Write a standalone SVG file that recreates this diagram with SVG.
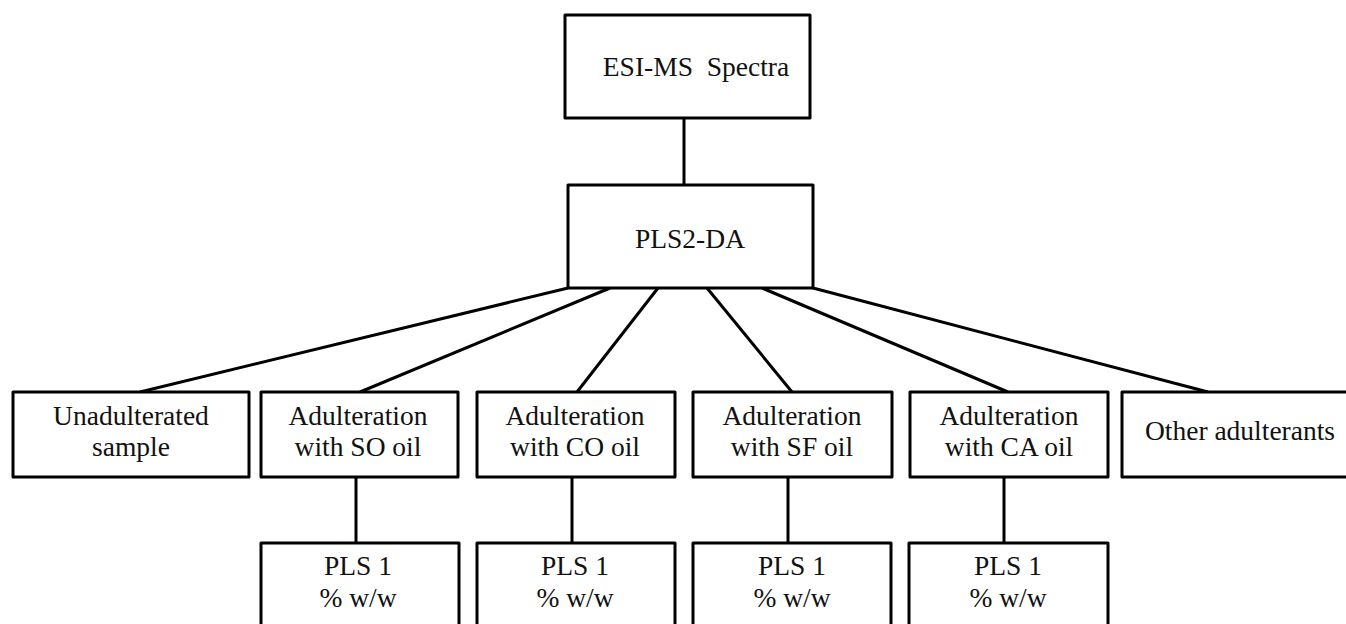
<svg xmlns="http://www.w3.org/2000/svg" width="1346" height="624" viewBox="0 0 1346 624">
<style>
.box{fill:#fff;stroke:#000;stroke-width:3;stroke-linejoin:round}
.ln{stroke:#000;stroke-width:3;fill:none}
text{font-family:"Liberation Serif","Times New Roman",serif;font-size:27.5px;fill:#111;text-anchor:middle}
</style>
<rect width="1346" height="624" fill="#fff"/>
<g id="connectors">
<line class="ln" x1="684" y1="118" x2="684" y2="185"/>
<line class="ln" x1="568" y1="288" x2="140" y2="392"/>
<line class="ln" x1="610" y1="288" x2="360" y2="392"/>
<line class="ln" x1="658" y1="288" x2="577" y2="392"/>
<line class="ln" x1="707" y1="288" x2="792" y2="392"/>
<line class="ln" x1="762" y1="288" x2="1008" y2="392"/>
<line class="ln" x1="813" y1="288" x2="1208" y2="392"/>
<line class="ln" x1="356" y1="477" x2="356" y2="543"/>
<line class="ln" x1="572" y1="477" x2="572" y2="543"/>
<line class="ln" x1="788" y1="477" x2="788" y2="543"/>
<line class="ln" x1="1004" y1="477" x2="1004" y2="543"/>
</g>
<g id="esi"><rect class="box" x="565" y="15" width="245" height="103"/><text x="696" y="76" xml:space="preserve">ESI-MS  Spectra</text></g>
<g id="pls2da"><rect class="box" x="568" y="185" width="245" height="103"/><text x="690" y="248">PLS2-DA</text></g>
<g id="unadulterated"><rect class="box" x="13" y="392" width="236" height="85"/><text x="131" y="425">Unadulterated</text><text x="131" y="456">sample</text></g>
<g id="so"><rect class="box" x="261" y="392" width="197" height="85"/><text x="358" y="425">Adulteration</text><text x="358" y="456">with SO oil</text></g>
<g id="co"><rect class="box" x="477" y="392" width="198" height="85"/><text x="575" y="425">Adulteration</text><text x="575" y="456">with CO oil</text></g>
<g id="sf"><rect class="box" x="693" y="392" width="199" height="85"/><text x="792" y="425">Adulteration</text><text x="792" y="456">with SF oil</text></g>
<g id="ca"><rect class="box" x="910" y="392" width="198" height="85"/><text x="1009" y="425">Adulteration</text><text x="1009" y="456">with CA oil</text></g>
<g id="other"><rect class="box" x="1122" y="392" width="240" height="85"/><text x="1240" y="440">Other adulterants</text></g>
<g id="pls1so"><rect class="box" x="261" y="543" width="198" height="100"/><text x="358" y="575">PLS 1</text><text x="358" y="607">% w/w</text></g>
<g id="pls1co"><rect class="box" x="477" y="543" width="198" height="100"/><text x="575" y="575">PLS 1</text><text x="575" y="607">% w/w</text></g>
<g id="pls1sf"><rect class="box" x="693" y="543" width="198" height="100"/><text x="792" y="575">PLS 1</text><text x="792" y="607">% w/w</text></g>
<g id="pls1ca"><rect class="box" x="909" y="543" width="199" height="100"/><text x="1008" y="575">PLS 1</text><text x="1008" y="607">% w/w</text></g>
</svg>
